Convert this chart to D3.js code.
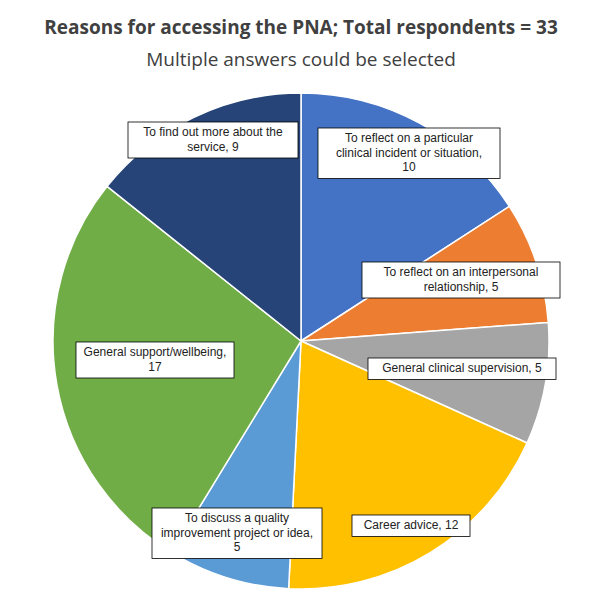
<!DOCTYPE html>
<html><head><meta charset="utf-8">
<script src="https://cdn.jsdelivr.net/npm/d3@7"></script>
<style>body{margin:0;background:#fff}</style>
</head><body>
<svg id="chart" width="603" height="599"></svg>
<script>
const categories = [
  'To reflect on a particular clinical incident or situation',
  'To reflect on an interpersonal relationship',
  'General clinical supervision',
  'Career advice',
  'To discuss a quality improvement project or idea',
  'General support/wellbeing',
  'To find out more about the service'
];
const values = [10, 5, 5, 12, 5, 17, 9];
const colors = ['#4472C4', '#ED7D31', '#A5A5A5', '#FFC000', '#5B9BD5', '#70AD47', '#264478'];
// label text lines, drawn as boxes
const labelLines = [
  ['To reflect on a particular', 'clinical incident or situation,', '10'],
  ['To reflect on an interpersonal', 'relationship, 5'],
  ['General clinical supervision, 5'],
  ['Career advice, 12'],
  ['To discuss a quality', 'improvement project or idea,', '5'],
  ['General support/wellbeing,', '17'],
  ['To find out more about the', 'service, 9']
];
// box top-left and width
const labelBoxes = [[318,128,182],[362,262,198],[368,358,188],[352,515,118],[152,508,170],[76,342,158],[128,122,170]];

const svg = d3.select('#chart');
const cx = 301, cy = 341, r = 248;

svg.append('text').attr('x', 301).attr('y', 34).attr('text-anchor', 'middle')
  .attr('font-family', 'Open Sans, sans-serif').attr('font-weight', 'bold').attr('font-size', 19)
  .attr('fill', '#404040').text('Reasons for accessing the PNA; Total respondents = 33');
svg.append('text').attr('x', 301).attr('y', 66).attr('text-anchor', 'middle')
  .attr('font-family', 'Open Sans, sans-serif').attr('font-size', 19)
  .attr('fill', '#404040').text('Multiple answers could be selected');

const pie = d3.pie().sort(null).value(d => d);
const arc = d3.arc().innerRadius(0).outerRadius(r);
const g = svg.append('g').attr('transform', `translate(${cx},${cy})`);
g.selectAll('path').data(pie(values)).enter().append('path')
  .attr('d', arc).attr('fill', (d, i) => colors[i])
  .attr('stroke', '#fff').attr('stroke-width', 1.5);

const lineH = 14.5;
labelLines.forEach((lines, i) => {
  const [x, y, w] = labelBoxes[i];
  const h = lines.length * lineH + 7;
  svg.append('rect').attr('x', x).attr('y', y).attr('width', w).attr('height', h)
    .attr('fill', '#fff').attr('stroke', '#000').attr('stroke-width', 0.8);
  lines.forEach((t, j) => {
    svg.append('text').attr('x', x + w / 2).attr('y', y + 14 + j * lineH)
      .attr('text-anchor', 'middle').attr('font-family', 'Liberation Sans, Arial, sans-serif')
      .attr('font-size', 12).attr('fill', '#222').text(t);
  });
});
</script>
</body></html>
